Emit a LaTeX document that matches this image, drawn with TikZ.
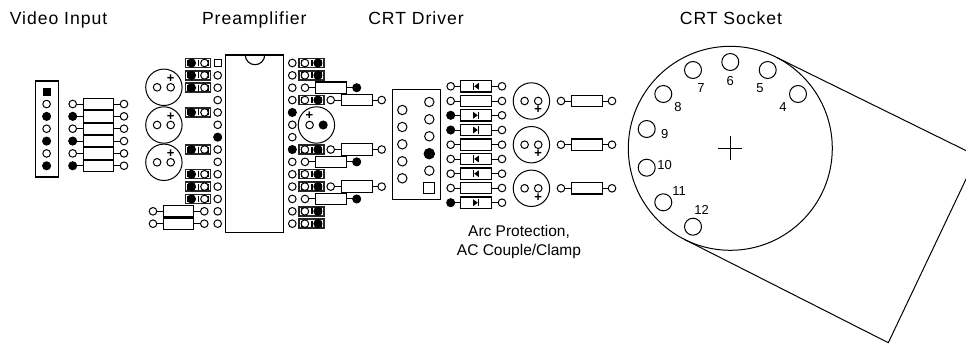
\documentclass[tikz,border=0pt]{standalone}
\usepackage{fontspec}
\setmainfont{Liberation Sans}
\newfontfamily\headfont[LetterSpace=5.5]{Liberation Sans}
\usepackage{tikz}
\tikzstyle{pad}=[circle,draw,fill=white,line width=1pt,inner sep=0pt,outer sep=0pt,minimum size=7.6pt]
\tikzstyle{padk}=[pad,fill=black,minimum size=8pt]
\tikzstyle{padq}=[rectangle,draw,fill=white,line width=1pt,inner sep=0pt,outer sep=0pt,minimum size=7pt]
\tikzstyle{drvpad}=[pad,minimum size=9.4pt]
\tikzstyle{res}=[rectangle,draw,fill=white,line width=1.1pt,inner sep=0pt,outer sep=0pt,minimum width=30.6pt,minimum height=11.4pt]
\tikzstyle{wire}=[line width=1pt]
\tikzstyle{jumperbox}=[rectangle,draw=black!85,fill=white,line width=1.5pt,inner sep=0pt,outer sep=0pt,minimum width=25pt,minimum height=9pt]
\tikzstyle{elcapbody}=[circle,draw,line width=1pt,inner sep=0pt,outer sep=0pt,minimum size=36.4pt]
\tikzstyle{outline}=[rectangle,draw,line width=1.1pt,inner sep=0pt,outer sep=0pt]
\tikzstyle{hole}=[circle,draw,line width=1pt,inner sep=0pt,outer sep=0pt,minimum size=17pt]
\tikzstyle{head}=[anchor=base,inner sep=0pt,font=\fontsize{17.6}{20}\headfont]
\tikzstyle{note}=[anchor=base,inner sep=0pt,font=\fontsize{15.5}{18}\selectfont]
\tikzstyle{pinno}=[inner sep=0pt,font=\fontsize{13}{15}\selectfont]
\tikzstyle{plus}=[inner sep=0pt,font=\fontsize{13}{15}\bfseries]
\newcommand\resrow[7]{%
	\node[#6] (#1-l) at (#3,#2) {};
	\node[res] (#1-b) at (#4,#2) {};
	\node[#7] (#1-r) at (#5,#2) {};
	\draw[wire] (#1-l) -- (#1-b);
	\draw[wire] (#1-b) -- (#1-r);
}
\newcommand\jumper[5]{%
	\node[jumperbox] (#1) at (#2,#3) {};
	\fill ({#2-10.6},{#3-3}) rectangle ({#2-9.4},{#3+3});
	\fill ({#2+9.4},{#3-3}) rectangle ({#2+10.6},{#3+3});
	\fill ({#2},{#3-3}) rectangle ({#2+1.4},{#3+3});
	\node[#4] (#1-a) at ({#2-6.5},#3) {};
	\node[#5] (#1-c) at ({#2+6.5},#3) {};
}
\newcommand\elcap[7]{%
	\node[elcapbody] (#1) at (#2,#3) {};
	\node[#4] (#1-a) at ({#2-6.8},#3) {};
	\node[#5] (#1-c) at ({#2+6.8},#3) {};
	\node[plus] (#1-p) at ({#2+#6},{#3+#7}) {+};
}
\newcommand\diode[2]{%
	\begin{scope}[shift={(#1.center)},xscale=#2]
		\fill (-2.8,-3.4) -- (1.8,0) -- (-2.8,3.4) -- cycle;
		\fill (1.8,-3.6) rectangle (3.2,3.6);
	\end{scope}
}
\begin{document}
\begin{tikzpicture}[x=1pt,y=-1pt]
	\useasboundingbox (0,0) rectangle (966,343);
	\node[head] (t-video) at (58.5,24) {Video Input};
	\node[head] (t-pre) at (254.3,24) {Preamplifier};
	\node[head] (t-drv) at (416,24) {CRT Driver};
	\node[head] (t-sock) at (731,24) {CRT Socket};
	\node[note] (t-arc) at (519,236) {Arc Protection,};
	\node[note] (t-ac) at (519,255) {AC Couple/Clamp};

	\node[outline,minimum width=23pt,minimum height=96pt] (vbox) at (46.6,129) {};
	\node[rectangle,fill=black,inner sep=0pt,minimum size=8pt] (v1) at (46.6,91.7) {};
	\foreach \i/\st in {2/pad,3/padk,4/pad,5/padk,6/pad,7/padk} {
		\pgfmathsetmacro\py{91.7+12.35*(\i-1)}
		\node[\st] (v\i) at (46.6,\py) {};
	}
	\foreach \i/\st in {1/pad,2/padk,3/pad,4/padk,5/pad,6/padk} {
		\pgfmathsetmacro\py{104+12.35*(\i-1)}
		\resrow{vr\i}{\py}{72.7}{98.5}{124}{\st}{pad}
	}

	\elcap{ca}{163.9}{87.3}{pad}{pad}{6.8}{-8.5}
	\elcap{cb}{163.9}{125}{pad}{pad}{6.8}{-8.5}
	\elcap{cc}{163.9}{162.3}{pad}{pad}{6.8}{-8.5}

	\node[outline,minimum width=57.6pt,minimum height=177.3pt] (ic) at (254.5,143.6) {};
	\draw[line width=1.1pt] (245.3,55) arc[start angle=180,end angle=0,radius=9.7];
	\node[padq] (pl1) at (217.7,63) {};
	\foreach \i/\st in {2/pad,3/pad,4/pad,5/pad,6/pad,7/padk,8/pad,9/pad,10/pad,11/pad,12/pad,13/pad,14/pad} {
		\pgfmathsetmacro\py{63+12.36*(\i-1)}
		\node[\st] (pl\i) at (217.7,\py) {};
	}
	\foreach \i/\st in {1/pad,2/pad,3/pad,4/pad,5/padk,6/pad,7/pad,8/padk,9/pad,10/pad,11/pad,12/pad,13/pad,14/pad} {
		\pgfmathsetmacro\py{63+12.36*(\i-1)}
		\node[\st] (pr\i) at (292.3,\py) {};
	}
	\foreach \i in {1,2,3,5,8,10,11,12} {
		\pgfmathsetmacro\py{63+12.36*(\i-1)}
		\jumper{jl\i}{198}{\py}{padk}{pad}
	}
	\foreach \i in {1,2,4,8,10,11,13,14} {
		\pgfmathsetmacro\py{63+12.36*(\i-1)}
		\jumper{jr\i}{311.4}{\py}{pad}{padk}
	}
	\resrow{rm}{211.3}{153}{178.6}{204.3}{pad}{pad}
	\resrow{rn}{223.7}{153}{178.6}{204.3}{pad}{pad}
	\foreach \i in {3,9,12} {
		\pgfmathsetmacro\py{63+12.36*(\i-1)}
		\resrow{ra\i}{\py}{305}{330.9}{356.7}{pad}{padk}
	}
	\foreach \i in {4,8,11} {
		\pgfmathsetmacro\py{63+12.36*(\i-1)}
		\resrow{rb\i}{\py}{330.7}{357}{381.7}{pad}{pad}
	}
	\elcap{cd}{316.4}{125}{pad}{padk}{-7}{-9}

	\node[outline,minimum width=47.3pt,minimum height=110.3pt] (drv) at (416.4,144.2) {};
	\foreach \i/\py in {1/110,2/127,3/144.3,4/161.3,5/178.3} {
		\node[drvpad] (dl\i) at (402.3,\py) {};
	}
	\foreach \i/\py in {1/102,2/119.3,3/136.3} {
		\node[drvpad] (dr\i) at (429.3,\py) {};
	}
	\node[padk,minimum size=10.4pt] (dr4) at (429.3,153.7) {};
	\node[drvpad] (dr5) at (429.3,170.7) {};
	\node[padq,minimum size=11pt] (dr6) at (429.3,188) {};

	\foreach \i/\py/\st in {1/86.3/pad,2/101/pad,3/115.3/padk,4/130/padk,5/144.7/pad,6/159/pad,7/173.7/pad,8/188/pad,9/202.7/padk} {
		\resrow{dd\i}{\py}{450.7}{476}{502}{\st}{pad}
	}
	\diode{dd1-b}{-1}
	\diode{dd3-b}{1}
	\diode{dd4-b}{1}
	\diode{dd6-b}{-1}
	\diode{dd7-b}{-1}
	\diode{dd9-b}{1}

	\elcap{ce}{531.4}{101}{pad}{pad}{6.8}{9}
	\elcap{cf}{531.4}{144.7}{pad}{pad}{6.8}{9}
	\elcap{cg}{531.4}{188.3}{pad}{pad}{6.8}{9}
	\resrow{re}{101}{561}{587}{612}{pad}{pad}
	\resrow{rf}{144.7}{561}{587}{612}{pad}{pad}
	\resrow{rg}{188.3}{561}{587}{612}{pad}{pad}

	\node[circle,draw,line width=1pt,inner sep=0pt,outer sep=0pt,minimum size=204pt] (sock) at (730.3,148.3) {};
	\coordinate (neck-a) at (977,156);
	\coordinate (neck-b) at (888.3,342.7);
	\begin{scope}
		\clip (0,0) rectangle (966,343);
		\draw[line width=1pt] (sock.63.3) -- (neck-a) -- (neck-b) -- (sock.243.3);
	\end{scope}
	\draw[line width=1pt] (718.3,148.3) -- (742.3,148.3);
	\draw[line width=1pt] (730.3,136.3) -- (730.3,160.3);
	\foreach \n/\hx/\hy/\lx/\ly in {4/798/94/783/107,5/767.7/70/760/88,6/730.3/62/730.3/80.7,7/693/70/701/88,8/663.3/94/678/107,9/646.7/129/664.7/134,10/646.7/167.7/664.7/164.7,11/663.3/202.3/679/191.3,12/693/226.7/701.7/210.3} {
		\node[hole] (h\n) at (\hx,\hy) {};
		\node[pinno] (n\n) at (\lx,\ly) {\n};
	}
\end{tikzpicture}
\end{document}
